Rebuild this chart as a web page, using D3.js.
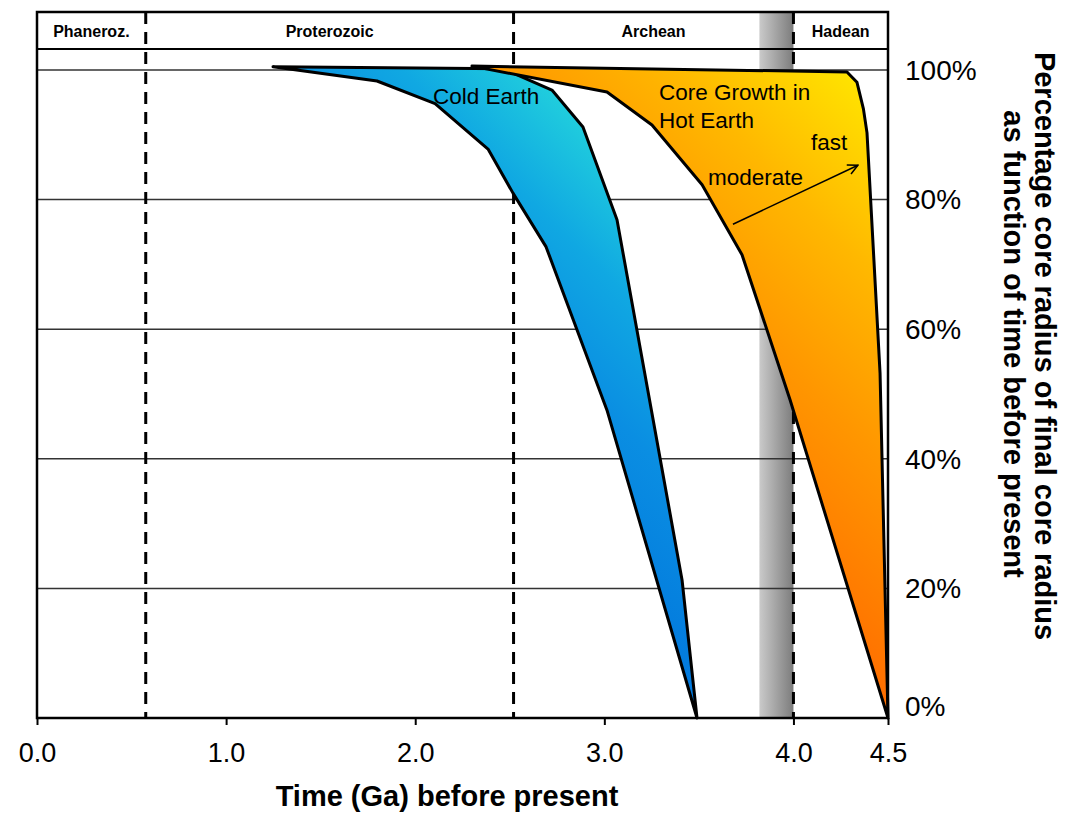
<!DOCTYPE html>
<html>
<head>
<meta charset="utf-8">
<script src="https://cdn.jsdelivr.net/npm/d3@7"></script>
<style>
    body { margin: 0; background: #fff; }
    svg { font-family: Arial, "Liberation Sans", sans-serif; }
</style>
</head>
<body>
<svg width="1071" height="814"></svg>
<script>
// ticks
const xTicks = [0, 1, 2, 3, 4, 4.5];
const yTicks = [0, 20, 40, 60, 80, 100];

// geological eons (Ga) and the grey band before 4.0 Ga
const eraNames = ['Phaneroz.', 'Proterozoic', 'Archean', 'Hadean'];
const eraBounds = [0, 0.575, 2.52, 4.0, 4.5];
const greyBand = [3.82, 4.0];

// core growth curves: [time Ga, % of final core radius]
const coldSlow = [[1.248, 100.5], [1.798, 98.3], [2.105, 94.8], [2.385, 87.8], [2.517, 81.0],
    [2.692, 72.7], [3.014, 47.5], [3.49, 0]];
const coldFast = [[2.464, 100.2], [2.723, 96.9], [2.887, 91.2], [3.067, 76.9], [3.411, 21.3], [3.49, 0]];
const hotModerate = [[2.30, 100.6], [3.014, 96.6], [3.252, 91.5], [3.517, 82.3], [3.728, 71.5],
    [3.982, 49.1], [4.5, 0]];
const hotFast = [[4.283, 99.7], [4.336, 98.1], [4.37, 94.0], [4.389, 90.3], [4.458, 53.2], [4.5, 0]];

// annotations: [time, %]
const labels = [
    {text: 'Cold Earth', pos: [2.094, 94.8]},
    {text: 'Core Growth in', pos: [3.289, 95.4]},
    {text: 'Hot Earth', pos: [3.289, 91.0]},
    {text: 'fast', pos: [4.093, 87.7]},
    {text: 'moderate', pos: [3.548, 82.3]}
];
const arrowFrom = [3.680, 76.2];
const arrowTo = [4.341, 85.3];

// colour ramps, given as [time, %] start and end points
const coldRamp = [[3.083, 91.2], [1.655, 49.5]];
const hotRamp = [[4.352, 98.5], [2.766, 52.2]];

const headerTop = 12;
const headerBottom = 49;

const svg = d3.select('svg');
const x = d3.scaleLinear().domain([0, 4.5]).range([37, 888]);
const y = d3.scaleLinear().domain([0, 100]).range([718, 70]);

const defs = svg.append('defs');

// gradients
const gBand = defs.append('linearGradient').attr('id', 'band');
gBand.append('stop').attr('offset', '0%').attr('stop-color', '#cacaca');
gBand.append('stop').attr('offset', '100%').attr('stop-color', '#7c7c7c');

function ramp(id, pts, stops) {
    const g = defs.append('linearGradient').attr('id', id)
        .attr('gradientUnits', 'userSpaceOnUse')
        .attr('x1', x(pts[0][0])).attr('y1', y(pts[0][1]))
        .attr('x2', x(pts[1][0])).attr('y2', y(pts[1][1]));
    stops.forEach(s => g.append('stop').attr('offset', s[0]).attr('stop-color', s[1]));
}
ramp('cold', coldRamp, [['0%', '#24d6dc'], ['30%', '#10a8e2'], ['55%', '#0a8ee2'], ['100%', '#0074dc']]);
ramp('hot', hotRamp, [['0%', '#ffe400'], ['30%', '#ffb800'], ['60%', '#ff9600'], ['100%', '#ff6e00']]);

defs.append('marker')
    .attr('id', 'arrow')
    .attr('viewBox', '0 0 12 12')
    .attr('refX', 11).attr('refY', 6)
    .attr('markerWidth', 12).attr('markerHeight', 12)
    .attr('markerUnits', 'userSpaceOnUse')
    .attr('orient', 'auto')
    .append('path')
    .attr('d', 'M1,1 L11,6 L1,11')
    .attr('fill', 'none')
    .attr('stroke', '#000')
    .attr('stroke-width', 1.5);

// grey band
svg.append('rect')
    .attr('x', x(greyBand[0]))
    .attr('y', headerTop)
    .attr('width', x(greyBand[1]) - x(greyBand[0]))
    .attr('height', y(0) - headerTop)
    .attr('fill', 'url(#band)');

// horizontal grid
svg.selectAll('.grid')
    .data(yTicks.filter(d => d > 0))
    .enter()
    .append('line')
    .attr('x1', x(0)).attr('x2', x(4.5))
    .attr('y1', d => y(d)).attr('y2', d => y(d))
    .attr('stroke', '#333')
    .attr('stroke-width', 1.5);

// eon boundaries
svg.selectAll('.bound')
    .data(eraBounds.slice(1, -1))
    .enter()
    .append('line')
    .attr('x1', d => x(d)).attr('x2', d => x(d))
    .attr('y1', headerTop).attr('y2', y(0))
    .attr('stroke', '#000')
    .attr('stroke-width', 3)
    .attr('stroke-dasharray', '12,8');

// filled areas between the two curves of each model
const line = d3.line().x(d => x(d[0])).y(d => y(d[1]));
const shapes = [
    {pts: coldSlow.concat(coldFast.slice(0, -1).reverse()), fill: 'url(#cold)'},
    {pts: hotModerate.concat(hotFast.slice(0, -1).reverse()), fill: 'url(#hot)'}
];
svg.selectAll('.shape')
    .data(shapes)
    .enter()
    .append('path')
    .attr('d', d => line(d.pts) + 'Z')
    .attr('fill', d => d.fill)
    .attr('stroke', '#000')
    .attr('stroke-width', 3)
    .attr('stroke-linejoin', 'round');

// frame and header row
svg.append('rect')
    .attr('x', x(0)).attr('y', headerTop)
    .attr('width', x(4.5) - x(0))
    .attr('height', y(0) - headerTop)
    .attr('fill', 'none')
    .attr('stroke', '#000')
    .attr('stroke-width', 2.5);

svg.append('line')
    .attr('x1', x(0)).attr('x2', x(4.5))
    .attr('y1', headerBottom).attr('y2', headerBottom)
    .attr('stroke', '#000')
    .attr('stroke-width', 2);

svg.selectAll('.era')
    .data(eraNames)
    .enter()
    .append('text')
    .attr('x', (d, i) => (x(eraBounds[i]) + x(eraBounds[i + 1])) / 2)
    .attr('y', 37)
    .attr('text-anchor', 'middle')
    .attr('font-size', 16)
    .attr('font-weight', 'bold')
    .text(d => d);

// x axis
const axisX = svg.append('g')
    .attr('transform', `translate(0, ${y(0)})`)
    .call(d3.axisBottom(x)
        .tickValues(xTicks)
        .tickFormat(d3.format('.1f'))
        .tickSize(7)
        .tickPadding(18)
        .tickSizeOuter(0));
axisX.select('.domain').remove();
axisX.selectAll('line').attr('stroke', '#000').attr('stroke-width', 2);
axisX.selectAll('text')
    .attr('font-size', 27)
    .attr('font-family', 'Arial, "Liberation Sans", sans-serif')
    .attr('fill', '#000');

svg.append('text')
    .attr('x', 447)
    .attr('y', 806)
    .attr('text-anchor', 'middle')
    .attr('font-size', 29)
    .attr('font-weight', 'bold')
    .text('Time (Ga) before present');

// right percent labels
svg.selectAll('.ylab')
    .data(yTicks)
    .enter()
    .append('text')
    .attr('x', 905)
    .attr('y', d => d === 0 ? y(d) - 12 : y(d))
    .attr('dy', '0.35em')
    .attr('font-size', 28)
    .text(d => d + '%');

svg.append('text')
    .attr('transform', 'translate(1035, 346) rotate(90)')
    .attr('text-anchor', 'middle')
    .attr('font-size', 29)
    .attr('font-weight', 'bold')
    .text('Percentage core radius of final core radius');

svg.append('text')
    .attr('transform', 'translate(1004, 344) rotate(90)')
    .attr('text-anchor', 'middle')
    .attr('font-size', 29)
    .attr('font-weight', 'bold')
    .text('as function of time before present');

// annotations
svg.selectAll('.lab')
    .data(labels)
    .enter()
    .append('text')
    .attr('x', d => x(d.pos[0]))
    .attr('y', d => y(d.pos[1]))
    .attr('font-size', 22.5)
    .text(d => d.text);

svg.append('line')
    .attr('x1', x(arrowFrom[0])).attr('y1', y(arrowFrom[1]))
    .attr('x2', x(arrowTo[0])).attr('y2', y(arrowTo[1]))
    .attr('stroke', '#000')
    .attr('stroke-width', 1.5)
    .attr('marker-end', 'url(#arrow)');
</script>
</body>
</html>
